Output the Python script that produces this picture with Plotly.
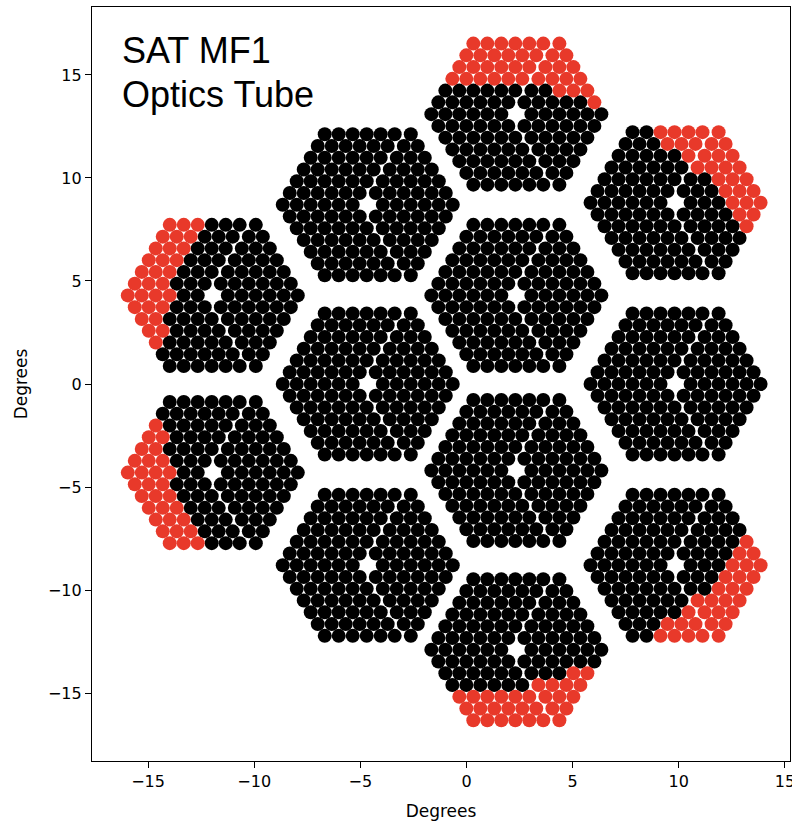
import numpy as np
import plotly.graph_objects as go

# Wafer centres (degrees)
wafer_x = [2.3, 9.8, 9.8, 9.8, 2.3, -4.7, -4.7, -4.7, 2.3, 2.3, -12.0, -12.0]
wafer_y = [13.1, 8.8, 0.0, -8.8, -12.9, -8.8, 0.0, 8.7, 4.3, -4.2, 4.3, -4.3]

# Detector lattice parameters (degrees)
pitch = 0.659          # detector spacing
hex_side = 6           # detectors per hexagon edge minus one
rhombus_gap = 0.10     # shift of the right-hand rhombus of each wafer

# Vignetting circle: detectors outside it are drawn red
cut_cx, cut_cy, cut_r = 0.3, 0.0, 14.8

tick_vals = [-15, -10, -5, 0, 5, 10, 15]

bx, by, rx, ry = [], [], [], []
for wx, wy in zip(wafer_x, wafer_y):
    for a in range(-hex_side, hex_side + 1):
        for b in range(-hex_side, hex_side + 1):
            if abs(a + b) > hex_side or (a == 0 and b == 0):
                continue
            px = pitch * (a + b / 2.0)
            py = pitch * (np.sqrt(3) / 2.0) * b
            ang = np.degrees(np.arctan2(py, px)) % 360
            if ang >= 300 or ang < 60:
                px += rhombus_gap
            x, y = wx + px, wy + py
            if np.hypot(x - cut_cx, y - cut_cy) > cut_r:
                rx.append(x); ry.append(y)
            else:
                bx.append(x); by.append(y)

fig = go.Figure()
fig.add_trace(go.Scatter(x=bx, y=by, mode="markers",
                         marker=dict(size=14, color="black", line=dict(width=0)),
                         hoverinfo="skip", showlegend=False))
fig.add_trace(go.Scatter(x=rx, y=ry, mode="markers",
                         marker=dict(size=14, color="#E8392A", line=dict(width=0)),
                         hoverinfo="skip", showlegend=False))

axis_common = dict(showgrid=False, zeroline=False, showline=True, mirror=True,
                   linecolor="black", linewidth=1.2, ticks="outside", ticklen=6,
                   tickwidth=1.2, tickcolor="black", tickvals=tick_vals,
                   automargin=False, ticklabeloverflow="allow",
                   tickfont=dict(family="DejaVu Sans", size=16, color="black"))

fig.update_layout(
    width=792, height=821,
    margin=dict(l=92, r=2, t=7, b=60),
    paper_bgcolor="white", plot_bgcolor="white",
    xaxis=dict(range=[-17.64, 15.24], title=dict(text="Degrees", standoff=14,
               font=dict(family="DejaVu Sans", size=17, color="black")), **axis_common),
    yaxis=dict(range=[-18.3, 18.3], title=dict(text="Degrees", standoff=15,
               font=dict(family="DejaVu Sans", size=17, color="black")), **axis_common),
    annotations=[
        dict(x=-16.33, y=16.2, xref="x", yref="y", text="SAT MF1", showarrow=False,
             xanchor="left", yanchor="middle",
             font=dict(family="Liberation Sans", size=36, color="black")),
        dict(x=-16.33, y=14.07, xref="x", yref="y", text="Optics Tube", showarrow=False,
             xanchor="left", yanchor="middle",
             font=dict(family="Liberation Sans", size=36, color="black")),
    ],
)

fig.write_html("out.html", config={"displayModeBar": False},
               post_script="document.body.style.margin='0';document.body.style.overflow='hidden';")
